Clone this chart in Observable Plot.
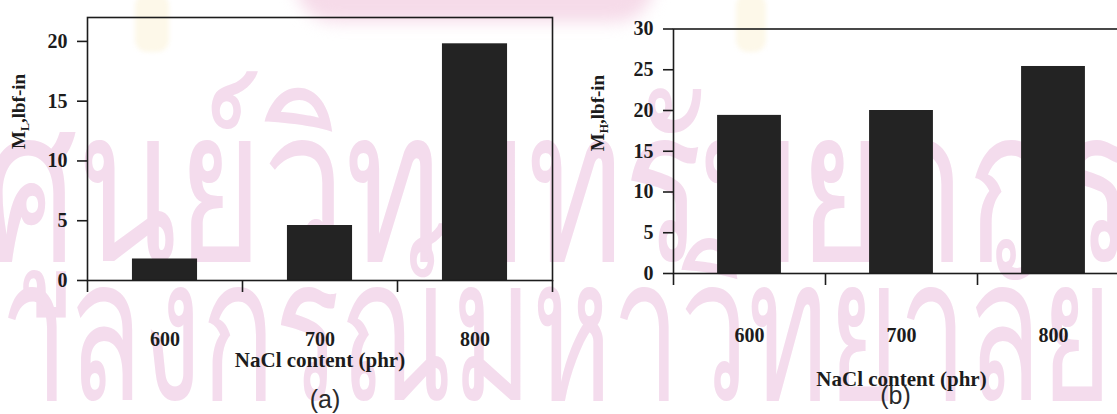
<!DOCTYPE html>
<html>
<head>
<meta charset="utf-8">
<script src="https://cdn.jsdelivr.net/npm/d3@7"></script>
<script src="https://cdn.jsdelivr.net/npm/@observablehq/plot@0.6"></script>
<style>
  html, body { margin: 0; padding: 0; background: #fff; }
  #page { position: relative; width: 1117px; height: 414px; overflow: hidden; background: #fff; }
  #wm { position: absolute; left: 0; top: 0; z-index: 0; overflow: hidden; }
  #wm text { fill: #f4dced; font-family: "Loma", "Garuda", "Norasi", "Kinnari", "Noto Serif Thai", "Noto Sans Thai", sans-serif; font-weight: normal; font-size: 120px; }
  .blob { position: absolute; z-index: 0; }
  .chart { position: absolute; top: 0; z-index: 1; }
  .chart svg { overflow: visible; background: transparent; max-width: none !important; }
</style>
</head>
<body>
<div id="page">
  <div class="blob" style="left:295px; top:-70px; width:360px; height:92px; border-radius:40px; background:#f6dbe9; filter:blur(8px);"></div>
  <div class="blob" style="left:135px; top:-6px; width:34px; height:58px; border-radius:12px; background:#fdf8e9; filter:blur(2px);"></div>
  <div class="blob" style="left:736px; top:-6px; width:30px; height:58px; border-radius:12px; background:#fdf8e9; filter:blur(2px);"></div>
  <svg id="wm" width="1117" height="414">
    <g transform="scale(1,1.8)">
      <text x="-16" y="145" textLength="1150" lengthAdjust="spacingAndGlyphs">ศูนย์วิทยทรัพยากร</text>
      <text x="0" y="222" textLength="1112" lengthAdjust="spacingAndGlyphs" style="font-size:112px">าลงกรณ์มหาวิทยาลัย</text>
    </g>
  </svg>
  <div class="chart" id="chartA" style="left:0px; width:560px;"></div>
  <div class="chart" id="chartB" style="left:557px; width:580px;"></div>
</div>
<script>
// ---- data ----
const categories = [600, 700, 800];          // NaCl content (phr)
const mlValues = [1.8, 4.6, 19.8];           // (a) M_L, lbf-in
const mhValues = [19.4, 20.0, 25.4];         // (b) M_H, lbf-in
const boundaryTicks = [550, 650, 750, 850];  // x tick marks between categories
const mlTicks = [0, 5, 10, 15, 20];
const mhTicks = [0, 5, 10, 15, 20, 25, 30];
const xTitle = "NaCl content (phr)";
const yTitles = [["M", "L", ",lbf-in"], ["M", "H", ",lbf-in"]];
const captions = ["(a)", "(b)"];

const serif = "'Liberation Serif', 'Times New Roman', serif";
const ink = "#1c1c1c";

function makeChart(opts) {
  const data = categories.map((c, i) => ({c, v: opts.values[i]}));
  const placeholder = opts.yTitle.join("");
  const svg = Plot.plot({
    width: opts.width,
    height: 414,
    marginLeft: opts.marginLeft,
    marginRight: opts.marginRight,
    marginTop: opts.marginTop,
    marginBottom: opts.marginBottom,
    x: {domain: [boundaryTicks[0], boundaryTicks[boundaryTicks.length - 1]]},
    y: {domain: opts.yDomain},
    style: {background: "transparent", fontFamily: serif, fontSize: "20px", fontWeight: "bold", color: ink},
    marks: [
      Plot.rectY(data, {x1: d => d.c - 21, x2: d => d.c + 21, y: "v", fill: "#232323"}),
      Plot.frame({stroke: ink, strokeWidth: 1.6}),
      Plot.axisY({ticks: opts.yTicks, tickSize: 10, tickPadding: 10, label: null, strokeWidth: 1.6}),
      Plot.axisX({ticks: boundaryTicks, tickSize: 12, tickFormat: () => "", label: null, strokeWidth: 1.6}),
      Plot.axisX({ticks: categories, tickSize: 0, tickPadding: opts.tickPad, label: null}),
      Plot.text([xTitle], {frameAnchor: "bottom", dy: opts.titleDy, fontSize: 21, fontWeight: "bold", fontFamily: serif}),
      Plot.text([placeholder], {frameAnchor: "left", rotate: -90, dx: opts.yTitleDx, fontSize: 19, fontWeight: "bold", fontFamily: serif}),
      Plot.text([opts.caption], {frameAnchor: "bottom", dy: opts.capDy, dx: opts.capDx, fontSize: 25, fontWeight: "normal", fontFamily: "'Liberation Sans', Arial, sans-serif", fill: "#2a2a2a"})
    ]
  });
  // y title with subscript
  const ns = "http://www.w3.org/2000/svg";
  svg.querySelectorAll("text").forEach(t => {
    if (t.textContent === placeholder) {
      t.textContent = "";
      const [m, sub, rest] = opts.yTitle;
      const a = document.createElementNS(ns, "tspan"); a.textContent = m; t.appendChild(a);
      const b = document.createElementNS(ns, "tspan"); b.textContent = sub; b.setAttribute("dy", "4"); b.setAttribute("font-size", "12"); t.appendChild(b);
      const c = document.createElementNS(ns, "tspan"); c.textContent = rest; c.setAttribute("dy", "-4"); t.appendChild(c);
    }
  });
  return svg;
}

document.getElementById("chartA").appendChild(makeChart({
  values: mlValues, yDomain: [0, 22], yTicks: mlTicks,
  width: 560, marginLeft: 87, marginRight: 8, marginTop: 17, marginBottom: 134,
  tickPad: 51, titleDy: 86, yTitleDx: -69, yTitle: yTitles[0],
  caption: captions[0], capDy: 127, capDx: 5
}));
document.getElementById("chartB").appendChild(makeChart({
  values: mhValues, yDomain: [0, 30], yTicks: mhTicks,
  width: 580, marginLeft: 116, marginRight: 8, marginTop: 28.5, marginBottom: 141,
  tickPad: 54, titleDy: 112, yTitleDx: -76, yTitle: yTitles[1],
  caption: captions[1], capDy: 130, capDx: -6
}));
</script>
</body>
</html>
